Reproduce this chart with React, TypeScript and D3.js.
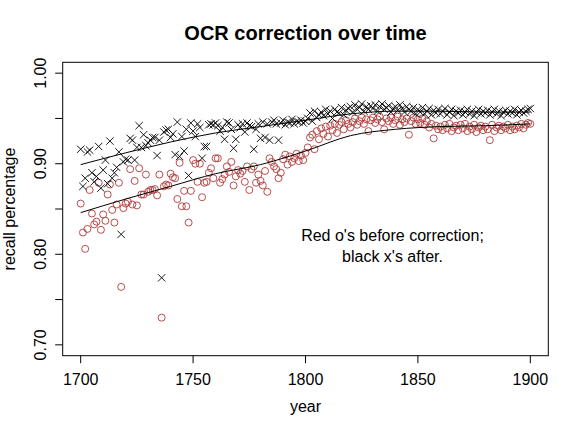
import * as d3 from "d3";

const width = 580;
const height = 434;
const font = "'Liberation Sans', Arial, Helvetica, sans-serif";

// one observation per year, 1700..1900
const startYear = 1700;

// recall after correction (black x's)
const afterValues = [
  0.916, 0.875, 0.884, 0.913, 0.915, 0.89, 0.88, 0.886, 0.919, 0.873,
  0.893, 0.904, 0.878, 0.925, 0.884, 0.89, 0.896, 0.913, 0.822, 0.902,
  0.905, 0.904, 0.928, 0.926, 0.904, 0.918, 0.942, 0.918, 0.932, 0.92,
  0.923, 0.926, 0.929, 0.929, 0.909, 0.926, 0.774, 0.935, 0.937, 0.938,
  0.929, 0.933, 0.91, 0.946, 0.908, 0.93, 0.914, 0.938, 0.887, 0.945,
  0.936, 0.93, 0.944, 0.94, 0.906, 0.919, 0.919, 0.943, 0.944, 0.943,
  0.945, 0.942, 0.936, 0.94, 0.927, 0.946, 0.945, 0.938, 0.917, 0.927,
  0.943, 0.94, 0.944, 0.935, 0.945, 0.942, 0.941, 0.916, 0.938, 0.944,
  0.928, 0.946, 0.929, 0.944, 0.926, 0.946, 0.948, 0.944, 0.926, 0.945,
  0.948, 0.943, 0.946, 0.945, 0.949, 0.944, 0.947, 0.946, 0.948, 0.945,
  0.947, 0.95, 0.956, 0.947, 0.958, 0.951, 0.954, 0.957, 0.953, 0.96,
  0.955, 0.958, 0.95, 0.96, 0.957, 0.956, 0.962, 0.954, 0.959, 0.961,
  0.963, 0.957, 0.965, 0.96, 0.962, 0.966, 0.958, 0.963, 0.96, 0.964,
  0.961, 0.965, 0.958, 0.963, 0.966, 0.96, 0.962, 0.964, 0.957, 0.961,
  0.963, 0.959, 0.965, 0.961, 0.957, 0.963, 0.96, 0.958, 0.962, 0.955,
  0.96, 0.957, 0.962, 0.955, 0.958, 0.961, 0.954, 0.959, 0.956, 0.96,
  0.955, 0.958, 0.961, 0.954, 0.957, 0.96, 0.953, 0.958, 0.956, 0.959,
  0.954, 0.957, 0.96, 0.955, 0.958, 0.953, 0.957, 0.96, 0.955, 0.958,
  0.956, 0.959, 0.954, 0.957, 0.96, 0.955, 0.958, 0.953, 0.957, 0.959,
  0.955, 0.958, 0.956, 0.96, 0.954, 0.957, 0.959, 0.956, 0.958, 0.96,
  0.961,
];

// recall before correction (red o's)
const beforeValues = [
  0.856, 0.824, 0.806, 0.828, 0.871, 0.845, 0.833, 0.836, 0.879, 0.827,
  0.844, 0.837, 0.866, 0.877, 0.849, 0.835, 0.855, 0.879, 0.764, 0.851,
  0.856, 0.858, 0.894, 0.855, 0.881, 0.854, 0.895, 0.866, 0.866, 0.888,
  0.869, 0.871, 0.871, 0.872, 0.865, 0.888, 0.73, 0.875, 0.877, 0.876,
  0.889, 0.885, 0.884, 0.861, 0.901, 0.853, 0.87, 0.853, 0.835, 0.87,
  0.904, 0.9, 0.88, 0.9, 0.863, 0.879, 0.88, 0.89, 0.895, 0.884,
  0.906, 0.906, 0.879, 0.883, 0.888, 0.897, 0.891, 0.902, 0.876, 0.886,
  0.893, 0.889, 0.892, 0.88, 0.897, 0.871, 0.894, 0.897, 0.879, 0.888,
  0.881, 0.876, 0.892, 0.869, 0.906, 0.902, 0.897, 0.894, 0.884, 0.89,
  0.905, 0.91, 0.899, 0.908, 0.902, 0.906, 0.911, 0.903, 0.909, 0.904,
  0.912, 0.918, 0.929, 0.932, 0.916, 0.936, 0.927, 0.939, 0.933, 0.941,
  0.93, 0.942, 0.937, 0.944, 0.934, 0.943, 0.946, 0.938, 0.948, 0.944,
  0.94, 0.946, 0.95, 0.943, 0.947, 0.951, 0.944, 0.949, 0.936, 0.948,
  0.951, 0.945, 0.949, 0.952, 0.946, 0.938, 0.95, 0.947, 0.951, 0.944,
  0.948, 0.952, 0.943, 0.949, 0.946, 0.95, 0.932, 0.947, 0.951, 0.944,
  0.949, 0.945, 0.95, 0.943, 0.947, 0.94, 0.944, 0.928, 0.942, 0.938,
  0.941, 0.937, 0.943, 0.939, 0.944, 0.936, 0.94, 0.942, 0.937, 0.943,
  0.939, 0.944, 0.936, 0.941, 0.938, 0.943, 0.935, 0.94, 0.942, 0.937,
  0.941, 0.938, 0.926, 0.943, 0.936, 0.94, 0.942, 0.937, 0.941, 0.939,
  0.943, 0.937, 0.941, 0.938, 0.942, 0.94, 0.944, 0.939, 0.943, 0.945,
  0.944,
];

// smoothed trend lines
const smoothYears = [1700, 1720, 1740, 1760, 1780, 1800, 1820, 1840, 1860, 1880, 1900];
const afterSmooth = [0.899, 0.912, 0.924, 0.934, 0.941, 0.948, 0.955, 0.958, 0.958, 0.957, 0.957];
const beforeSmooth = [0.846, 0.861, 0.875, 0.889, 0.899, 0.914, 0.931, 0.938, 0.941, 0.942, 0.944];

const xTicks = [1700, 1750, 1800, 1850, 1900];
const yTicks = [0.7, 0.8, 0.9, 1.0];
const yMinorTicks = [0.75, 0.85, 0.95];

const plot = { left: 62.7, right: 548.3, top: 62.3, bottom: 355.7 };

export default function App() {
  const x = d3.scaleLinear().domain([1692, 1908]).range([plot.left, plot.right]);
  const y = d3.scaleLinear().domain([0.688, 1.012]).range([plot.bottom, plot.top]);

  const line = d3
    .line<number>()
    .x((_, i) => x(smoothYears[i]))
    .y((d) => y(d))
    .curve(d3.curveMonotoneX);

  const cross = 3.7;

  return (
    <svg
      width={width}
      height={height}
      style={{ position: "absolute", left: 0, top: 0, background: "#fff" }}
      fontFamily={font}
    >
      <text x={305.5} y={40} textAnchor="middle" fontSize={20} fontWeight="bold">
        OCR correction over time
      </text>

      <rect
        x={plot.left}
        y={plot.top}
        width={plot.right - plot.left}
        height={plot.bottom - plot.top}
        fill="none"
        stroke="#000"
        strokeWidth={1}
      />

      {/* x axis */}
      {xTicks.map((t) => (
        <g key={`xt-${t}`}>
          <line x1={x(t)} x2={x(t)} y1={plot.bottom} y2={plot.bottom + 7.5} stroke="#000" />
          <text x={x(t)} y={385} textAnchor="middle" fontSize={16}>
            {t}
          </text>
        </g>
      ))}
      <text x={305.5} y={412} textAnchor="middle" fontSize={16}>
        year
      </text>

      {/* y axis */}
      {yTicks.map((t) => (
        <g key={`yt-${t}`}>
          <line x1={plot.left - 7.5} x2={plot.left} y1={y(t)} y2={y(t)} stroke="#000" />
          <text
            transform={`translate(46,${y(t)}) rotate(-90)`}
            textAnchor="middle"
            fontSize={16}
          >
            {t.toFixed(2)}
          </text>
        </g>
      ))}
      {yMinorTicks.map((t) => (
        <line
          key={`ym-${t}`}
          x1={plot.left - 7.5}
          x2={plot.left}
          y1={y(t)}
          y2={y(t)}
          stroke="#000"
        />
      ))}
      <text
        transform={`translate(15,${(plot.top + plot.bottom) / 2}) rotate(-90)`}
        textAnchor="middle"
        fontSize={16}
      >
        recall percentage
      </text>

      {/* points */}
      {beforeValues.map((v, i) => (
        <circle
          key={`b-${i}`}
          cx={x(startYear + i)}
          cy={y(v)}
          r={3.5}
          fill="none"
          stroke="#b03a3a"
          strokeWidth={0.9}
        />
      ))}
      {afterValues.map((v, i) => {
        const cx = x(startYear + i);
        const cy = y(v);
        return (
          <path
            key={`a-${i}`}
            d={`M${cx - cross},${cy - cross}L${cx + cross},${cy + cross}M${cx - cross},${cy + cross}L${cx + cross},${cy - cross}`}
            stroke="#000"
            strokeWidth={0.9}
          />
        );
      })}

      {/* smooth trends */}
      <path d={line(afterSmooth) ?? ""} fill="none" stroke="#000" strokeWidth={1} />
      <path d={line(beforeSmooth) ?? ""} fill="none" stroke="#000" strokeWidth={1} />

      <text x={392.5} y={240.5} textAnchor="middle" fontSize={16}>
        Red o's before correction;
      </text>
      <text x={392.5} y={261.5} textAnchor="middle" fontSize={16}>
        black x's after.
      </text>
    </svg>
  );
}
